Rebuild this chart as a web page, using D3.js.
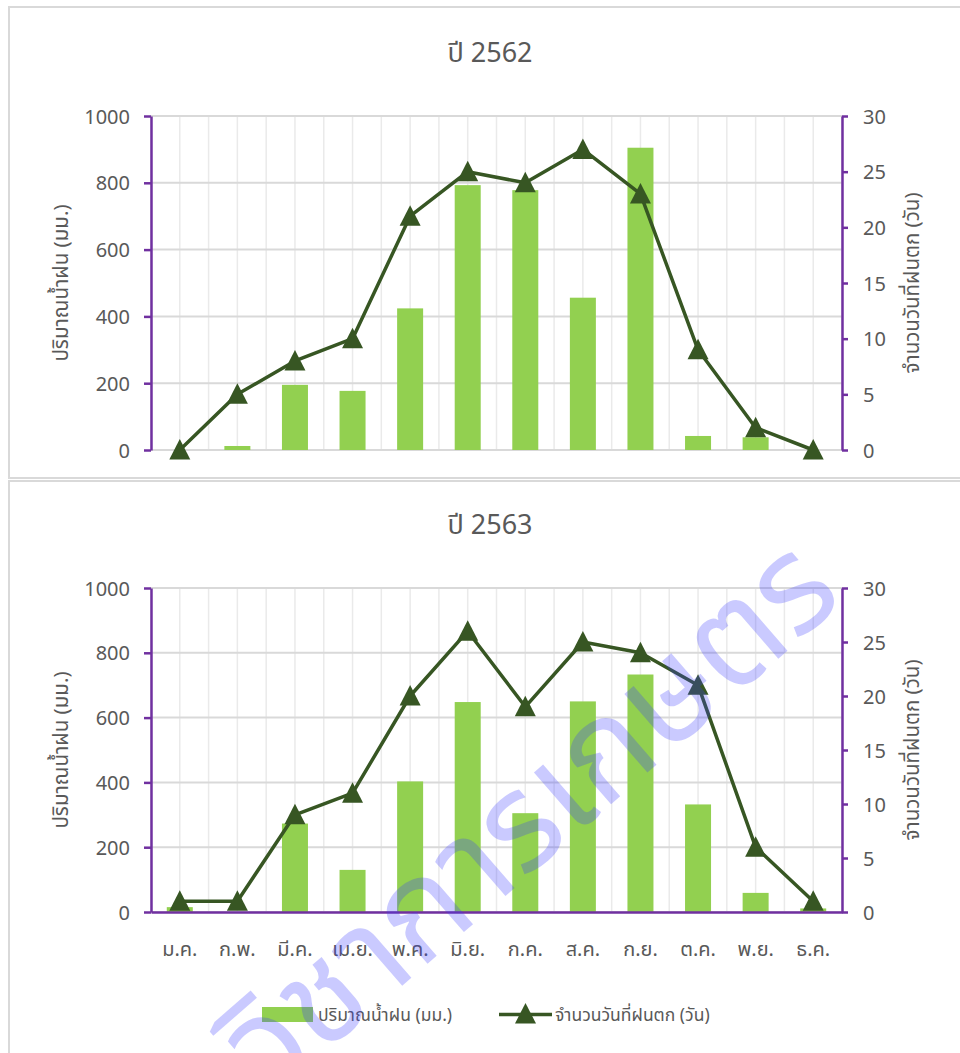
<!DOCTYPE html>
<html><head><meta charset="utf-8">
<script src="https://cdn.jsdelivr.net/npm/d3@7"></script>
<style>
html,body{margin:0;padding:0;background:#fff;}
svg{display:block;}
text{font-family:"Noto Sans","Noto Sans Thai","Open Sans",sans-serif;}
</style></head>
<body>
<svg id="chart" width="960" height="1053"></svg>
<script>
const months = ["ม.ค.","ก.พ.","มี.ค.","เม.ย.","พ.ค.","มิ.ย.","ก.ค.","ส.ค.","ก.ย.","ต.ค.","พ.ย.","ธ.ค."];
const titles = ["ปี 2562","ปี 2563"];
const rain2562 = [0,12,195,177,424,793,778,456,905,42,38,0];
const days2562 = [0,5,8,10,21,25,24,27,23,9,2,0];
const rain2563 = [15,0,273,130,403,648,305,650,733,332,59,11];
const days2563 = [1,1,9,11,20,26,19,25,24,21,6,1];
const leftTicks = [0,200,400,600,800,1000];
const rightTicks = [0,5,10,15,20,25,30];
const leftTitle = "ปริมาณน้ำฝน (มม.)";
const rightTitle = "จำนวนวันที่ฝนตก (วัน)";
const watermark = "วิชาการเกษตร";

const svg = d3.select("#chart");
const C = {bar:"#92d050", line:"#375623", axis:"#7030a0", text:"#595959", hgrid:"#d9d9d9", vgrid:"#eaeaea", frame:"#d9d9d9"};

svg.append("rect").attr("x",9).attr("y",7).attr("width",960).attr("height",471).attr("fill","none").attr("stroke",C.frame).attr("stroke-width",2);
svg.append("rect").attr("x",9).attr("y",481).attr("width",960).attr("height",600).attr("fill","none").attr("stroke",C.frame).attr("stroke-width",2);

const panels = [
  {title:titles[0], rain:rain2562, days:days2562, top:116, bottom:450, titleY:62, xLabels:false},
  {title:titles[1], rain:rain2563, days:days2563, top:588, bottom:912, titleY:534, xLabels:true}
];
const L = 151, R = 842;
const tri = "M0,-11L10.5,9.5L-10.5,9.5Z";

panels.forEach(p => {
  const g = svg.append("g");
  const x = d3.scaleBand().domain(months).range([L,R]).padding(0);
  const yL = d3.scaleLinear().domain([0,1000]).range([p.bottom,p.top]);
  const yR = d3.scaleLinear().domain([0,30]).range([p.bottom,p.top]);
  const bw = x.bandwidth();

  const vpos = [];
  months.forEach(m=>{ vpos.push(x(m)); vpos.push(x(m)+bw/2); });
  vpos.push(R);
  g.selectAll(".vg").data(vpos).join("line")
    .attr("x1",d=>d).attr("x2",d=>d).attr("y1",p.top).attr("y2",p.bottom)
    .attr("stroke",C.vgrid).attr("stroke-width",1.5);
  g.selectAll(".hg").data(leftTicks).join("line")
    .attr("x1",L).attr("x2",R).attr("y1",d=>yL(d)).attr("y2",d=>yL(d))
    .attr("stroke",C.hgrid).attr("stroke-width",2);

  const barW = 26;
  g.selectAll(".bar").data(p.rain).join("rect")
    .attr("x",(d,i)=>x(months[i])+bw/2-barW/2).attr("width",barW)
    .attr("y",d=>yL(d)).attr("height",d=>p.bottom-yL(d))
    .attr("fill",C.bar);

  const la = g.append("g").attr("transform",`translate(${L},0)`)
    .call(d3.axisLeft(yL).tickValues(leftTicks).tickFormat(d3.format("d")).tickSize(7).tickPadding(14).tickSizeOuter(0));
  la.select(".domain").attr("stroke",C.axis).attr("stroke-width",2.5);
  la.selectAll(".tick line").attr("stroke",C.axis).attr("stroke-width",2.5);
  la.selectAll(".tick text").attr("fill",C.text).style("font-size","20px").attr("dy","0.35em");

  const ra = g.append("g").attr("transform",`translate(${R},0)`)
    .call(d3.axisRight(yR).tickValues(rightTicks).tickFormat(d3.format("d")).tickSize(6).tickPadding(15).tickSizeOuter(0));
  ra.select(".domain").attr("stroke",C.axis).attr("stroke-width",2.5);
  ra.selectAll(".tick line").attr("stroke",C.axis).attr("stroke-width",2.5);
  ra.selectAll(".tick text").attr("fill",C.text).style("font-size","20px").attr("dy","0.35em");

  if (p.xLabels) {
    const xa = g.append("g").attr("transform",`translate(0,${p.bottom})`)
      .call(d3.axisBottom(x).tickSize(0).tickPadding(0).tickSizeOuter(0));
    xa.select(".domain").attr("stroke",C.axis).attr("stroke-width",2.5);
    xa.selectAll(".tick text").attr("fill",C.text).style("font-size","20px")
      .attr("y",44).attr("dy",0);
  }

  const line = d3.line().x((d,i)=>x(months[i])+bw/2).y(d=>yR(d));
  g.append("path").datum(p.days).attr("d",line).attr("fill","none")
    .attr("stroke",C.line).attr("stroke-width",3.5).attr("stroke-linejoin","round");
  g.selectAll(".mk").data(p.days).join("path")
    .attr("d",tri).attr("transform",(d,i)=>`translate(${x(months[i])+bw/2},${yR(d)})`)
    .attr("fill",C.line);

  g.append("text").attr("x",490).attr("y",p.titleY).attr("text-anchor","middle")
    .attr("fill",C.text).style("font-size","27px").text(p.title);
  const mid = (p.top+p.bottom)/2;
  g.append("text").attr("transform",`translate(68,${mid}) rotate(-90)`).attr("text-anchor","middle")
    .attr("fill",C.text).style("font-size","20.5px").text(leftTitle);
  g.append("text").attr("transform",`translate(919,${mid}) rotate(-90)`).attr("text-anchor","middle")
    .attr("fill",C.text).style("font-size","20.5px").text(rightTitle);
});

const lg = svg.append("g");
lg.append("rect").attr("x",262).attr("y",1007).attr("width",51).attr("height",15).attr("fill",C.bar);
lg.append("text").attr("x",318).attr("y",1021).attr("fill",C.text).style("font-size","17.5px").text(leftTitle);
lg.append("line").attr("x1",499).attr("x2",552).attr("y1",1014.5).attr("y2",1014.5).attr("stroke",C.line).attr("stroke-width",3.5);
lg.append("path").attr("d",tri).attr("transform","translate(525.5,1014)").attr("fill",C.line);
lg.append("text").attr("x",555).attr("y",1021).attr("fill",C.text).style("font-size","17.5px").text(rightTitle);

svg.append("text").attr("transform","translate(846,600) rotate(-41)")
  .attr("text-anchor","end")
  .style("font-family","'Noto Sans Thai','Noto Sans Thai UI',sans-serif")
  .attr("fill","rgb(60,60,255)").attr("fill-opacity",0.27)
  .style("font-size","136px").text(watermark);
</script>
</body></html>
